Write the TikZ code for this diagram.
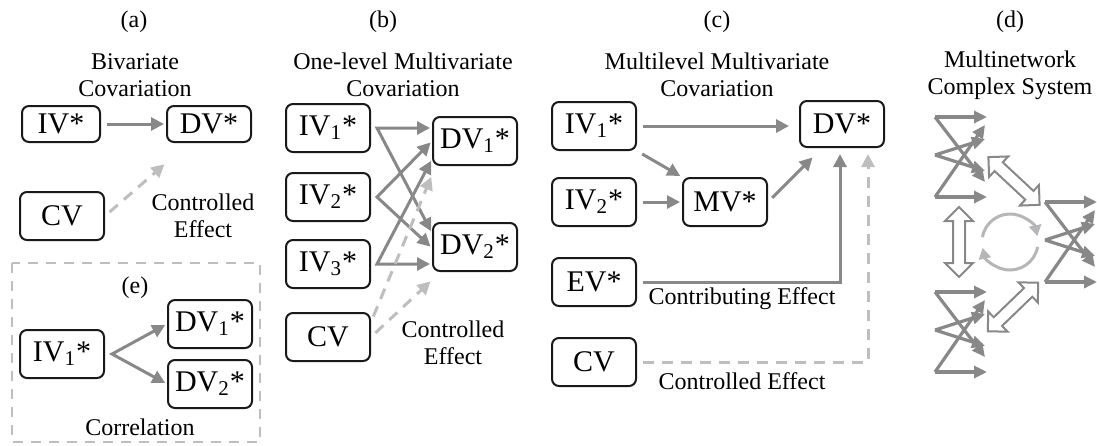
\documentclass[tikz,border=0pt]{standalone}
\usepackage{fontspec}
\setmainfont{Liberation Serif}
\usetikzlibrary{arrows.meta}
\definecolor{linkgray}{RGB}{136,136,136}
\definecolor{ctrlgray}{RGB}{190,190,192}
\definecolor{turngray}{RGB}{182,182,186}
\tikzset{
    var/.style={draw=black!90,line width=1pt,rounded corners=3.5pt,
        minimum width=42pt,minimum height=24pt,inner sep=0pt,
        font=\fontsize{15}{18}\selectfont},
    effect/.style={draw=linkgray,line width=1.5pt,
        -{Triangle[length=6.5pt,width=6.5pt]},shorten <=3pt,shorten >=1pt},
    fork/.style={effect,{Triangle[length=6.5pt,width=6.5pt]}-{Triangle[length=6.5pt,width=6.5pt]},
        shorten <=1pt},
    ctrl/.style={effect,draw=ctrlgray,dash pattern=on 5.5pt off 4pt},
    net/.style={draw=linkgray,line width=1.6pt,-{Triangle[length=6.5pt,width=6pt]}},
    turn/.style={draw=turngray,line width=1.5pt,-{Triangle[length=5.5pt,width=6pt]}},
    hollowarrow/.pic={
        \draw[draw=linkgray,line width=1pt,fill=white,line join=miter]
            (-35,0) -- (-21,14) -- (-21,6) -- (21,6) -- (21,14) -- (35,0)
            -- (21,-14) -- (21,-6) -- (-21,-6) -- (-21,-14) -- cycle;
    }
}
\begin{document}
\begin{tikzpicture}[x=0.5pt,y=-0.5pt,font=\fontsize{12}{13.5}\selectfont]
\useasboundingbox (0,0) rectangle (1097,445);

\node (tagA) at (134,22) {(a)};
\node[align=center] (headA) at (135,75) {Bivariate\\Covariation};
\node[var,minimum width=39pt,minimum height=18pt] (ivA) at (61,124) {IV*};
\node[var,minimum height=18pt] (dvA) at (209,124) {DV*};
\node[var] (cvA) at (62,216) {CV};
\node[align=center] (noteA) at (203,216) {Controlled\\Effect};
\draw[effect] (ivA) -- (dvA);
\draw[ctrl] (cvA.east) -- ([yshift=-10pt]dvA.south west);

\draw[ctrlgray,line width=1pt,dash pattern=on 5pt off 4pt] (12,263) rectangle (260,442);
\node (tagE) at (135,288) {(e)};
\node[var] (ivE) at (62,354) {IV\textsubscript{1}*};
\node[var] (dvE1) at (210,324) {DV\textsubscript{1}*};
\node[var] (dvE2) at (210,384) {DV\textsubscript{2}*};
\node (noteE) at (140,427) {Correlation};
\draw[fork] (dvE1.west) -- ([xshift=3.5pt]ivE.east) -- (dvE2.west);

\node (tagB) at (383,22) {(b)};
\node[align=center] (headB) at (403,75) {One-level Multivariate\\Covariation};
\node[var] (ivB1) at (328,128) {IV\textsubscript{1}*};
\node[var] (ivB2) at (328,197) {IV\textsubscript{2}*};
\node[var] (ivB3) at (328,264) {IV\textsubscript{3}*};
\node[var] (cvB) at (328,337) {CV};
\node[var] (dvB1) at (475,141) {DV\textsubscript{1}*};
\node[var] (dvB2) at (475,247) {DV\textsubscript{2}*};
\node[align=center] (noteB) at (453,343) {Controlled\\Effect};
\draw[fork] (ivB1.east -| dvB1.west) -- ([xshift=3pt]ivB1.east) -- ([yshift=7pt]dvB2.west);
\draw[fork] (dvB1.west) -- ([xshift=3pt]ivB2.east) -- ([yshift=-0.5pt]dvB2.west);
\draw[fork] ([yshift=-9pt]dvB1.west) -- ([xshift=3pt]ivB3.east) -- (ivB3.east -| dvB2.west);
\draw[ctrl] ([yshift=-5pt]cvB.north east) -- ([yshift=-4.5pt]dvB1.south west);
\draw[ctrl] (cvB.east) -- ([yshift=-4pt]dvB2.south west);

\node (tagC) at (717,22) {(c)};
\node[align=center] (headC) at (717,75) {Multilevel Multivariate\\Covariation};
\node[var] (ivC1) at (594,126) {IV\textsubscript{1}*};
\node[var] (ivC2) at (594,202) {IV\textsubscript{2}*};
\node[var] (mvC) at (725,202) {MV*};
\node[var,minimum height=23pt] (dvC) at (842,124) {DV*};
\node[var] (evC) at (594,282) {EV*};
\node[var] (cvC) at (594,362) {CV};
\node (noteC1) at (742,299) {Contributing Effect};
\node (noteC2) at (742,381) {Controlled Effect};
\draw[effect,shorten >=5pt] (ivC1) -- (ivC1 -| dvC.west);
\draw[effect] (ivC1.south east) -- (mvC.north west);
\draw[effect] (ivC2) -- (mvC);
\draw[effect] (mvC.east) -- ([xshift=7.5pt,yshift=-4pt]dvC.south west);
\draw[effect,shorten >=3pt] (evC.east) -| ([xshift=-1pt]dvC.south);
\draw[ctrl,shorten >=3pt] (cvC.east) -| ([xshift=13pt]dvC.south);

\node (tagD) at (1010,22) {(d)};
\node[align=center] (headD) at (1010,75) {Multinetwork\\Complex System};
\foreach \nx/\ny in {935/117,1045/202,935/292}{
    \draw[net] (\nx,\ny) -- (\nx+52,\ny);
    \draw[net] (\nx,\ny+80) -- (\nx+50,\ny+8);
    \draw[net] (\nx,\ny+38) -- (\nx+50,\ny+22);
    \draw[net] (\nx,\ny+38) -- (\nx+50,\ny+54);
    \draw[net] (\nx,\ny) -- (\nx+50,\ny+65);
    \draw[net] (\nx,\ny+80) -- (\nx+52,\ny+80);
}
\pic[rotate=-43] at (1014,181) {hollowarrow};
\pic[rotate=90] at (959,242) {hollowarrow};
\pic[rotate=44] at (1013,307) {hollowarrow};
\coordinate (loopD) at (1010,242);
\draw[turn] ([shift={(170:14pt)}]loopD) arc[start angle=170,end angle=12,radius=14pt];
\draw[turn] ([shift={(-10:14pt)}]loopD) arc[start angle=-10,end angle=-168,radius=14pt];
\end{tikzpicture}
\end{document}
